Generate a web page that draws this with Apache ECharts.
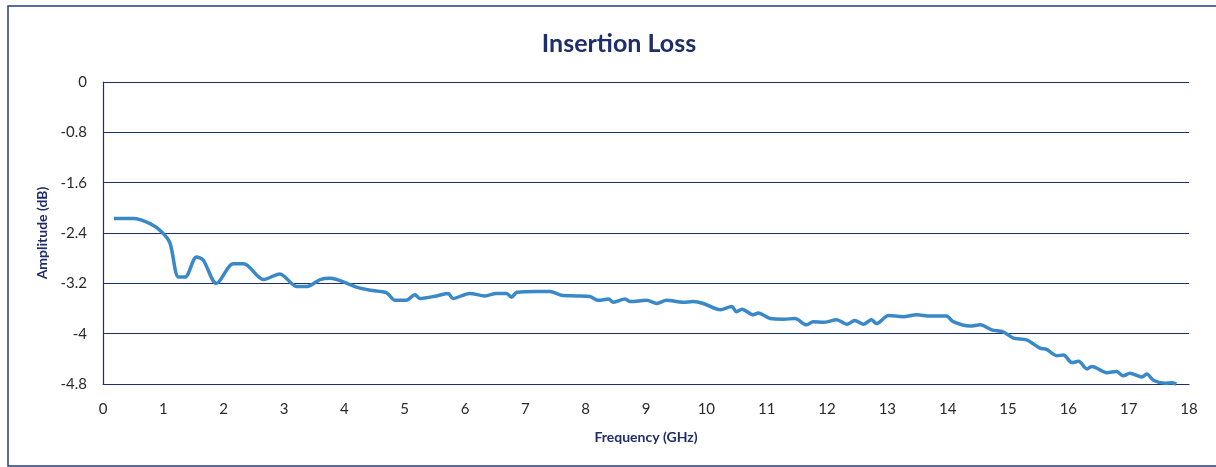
<!DOCTYPE html>
<html>
<head>
<meta charset="utf-8">
<title>Insertion Loss</title>
<script src="https://cdn.jsdelivr.net/npm/echarts@6/dist/echarts.min.js"></script>
<style>
  html, body { margin: 0; padding: 0; background: #fff; }
  #chart { width: 1216px; height: 467px; }
</style>
</head>
<body>
<div id="chart"></div>
<script>
// frequency (GHz)
const freq = [0.18, 0.5, 0.78, 0.97, 1.11, 1.25, 1.36, 1.55, 1.66, 1.88, 2.16, 2.33, 2.66, 2.93, 3.21, 3.38, 3.6, 3.76, 4.2, 4.43,
  4.7, 4.84, 5.03, 5.17, 5.25, 5.53, 5.72, 5.8, 6.08, 6.33, 6.52, 6.69, 6.77, 6.86, 7.19, 7.41, 7.6, 7.85, 8.07, 8.21,
  8.38, 8.46, 8.65, 8.74, 9.01, 9.18, 9.34, 9.62, 9.78, 9.95, 10.23, 10.42, 10.5, 10.59, 10.78, 10.86, 11.06, 11.28, 11.47, 11.66,
  11.77, 11.94, 12.16, 12.33, 12.46, 12.6, 12.74, 12.82, 13.02, 13.26, 13.49, 13.71, 13.98, 14.09, 14.37, 14.54, 14.73, 14.92, 15.09, 15.31,
  15.53, 15.64, 15.81, 15.92, 16.06, 16.17, 16.31, 16.39, 16.64, 16.8, 16.91, 17.02, 17.22, 17.3, 17.41, 17.61, 17.71, 17.79];
// amplitude (dB)
const amplitude = [-2.17, -2.17, -2.25, -2.38, -2.56, -3.1, -3.1, -2.78, -2.83, -3.2, -2.89, -2.89, -3.14, -3.05, -3.25, -3.25, -3.14, -3.12, -3.26, -3.31,
  -3.35, -3.47, -3.47, -3.38, -3.44, -3.4, -3.36, -3.44, -3.36, -3.4, -3.36, -3.36, -3.42, -3.34, -3.33, -3.33, -3.39, -3.4, -3.41, -3.47,
  -3.45, -3.5, -3.45, -3.49, -3.47, -3.52, -3.47, -3.5, -3.49, -3.52, -3.62, -3.57, -3.65, -3.61, -3.7, -3.67, -3.76, -3.77, -3.76, -3.86,
  -3.81, -3.82, -3.78, -3.85, -3.79, -3.85, -3.78, -3.84, -3.71, -3.73, -3.7, -3.72, -3.72, -3.81, -3.88, -3.86, -3.94, -3.97, -4.07, -4.1,
  -4.23, -4.25, -4.35, -4.34, -4.46, -4.44, -4.56, -4.52, -4.62, -4.6, -4.67, -4.63, -4.69, -4.64, -4.74, -4.79, -4.78, -4.8];

const navy = '#1e2d6b';

const chart = echarts.init(document.getElementById('chart'));
const option = {
  animation: false,
  title: {
    text: 'Insertion Loss',
    left: 614,
    textAlign: 'center',
    top: 26,
    textStyle: { fontFamily: 'Lato', fontSize: 25, fontWeight: 'bold', color: navy }
  },
  graphic: [{
    type: 'rect',
    shape: { x: 8, y: 6, width: 1220, height: 460 },
    style: { fill: 'none', stroke: '#2a3a78', lineWidth: 1.5 },
    silent: true
  }],
  grid: { left: 103, right: 27, top: 82, bottom: 83 },
  xAxis: {
    type: 'value',
    min: 0, max: 18, interval: 1,
    name: 'Frequency (GHz)',
    nameLocation: 'middle',
    nameGap: 46,
    nameTextStyle: { fontFamily: 'Lato', fontSize: 14, fontWeight: 'bold', color: navy },
    axisLine: { show: true, onZero: false, lineStyle: { color: navy, width: 1.2 } },
    axisTick: { show: false },
    axisLabel: { margin: 18, fontFamily: 'Lato', fontSize: 15, color: '#2a2a2a' },
    splitLine: { show: false }
  },
  yAxis: {
    type: 'value',
    min: -4.8, max: 0, interval: 0.8,
    name: 'Amplitude (dB)',
    nameLocation: 'middle',
    nameGap: 52,
    nameTextStyle: { fontFamily: 'Lato', fontSize: 14, fontWeight: 'bold', color: navy },
    axisLine: { show: true, lineStyle: { color: navy, width: 1.2 } },
    axisTick: { show: false },
    axisLabel: { margin: 16, fontFamily: 'Lato', fontSize: 15, color: '#2a2a2a',
      formatter: v => Number(v.toFixed(1)).toString() },
    splitLine: { show: true, lineStyle: { color: navy, width: 1.2 } }
  },
  series: [{
    type: 'line',
    data: freq.map((f, i) => [f, amplitude[i]]),
    showSymbol: false,
    smooth: 0.3,
    clip: false,
    lineStyle: { color: '#3a88c8', width: 3.5 }
  }]
};
chart.setOption(option);
</script>
</body>
</html>
